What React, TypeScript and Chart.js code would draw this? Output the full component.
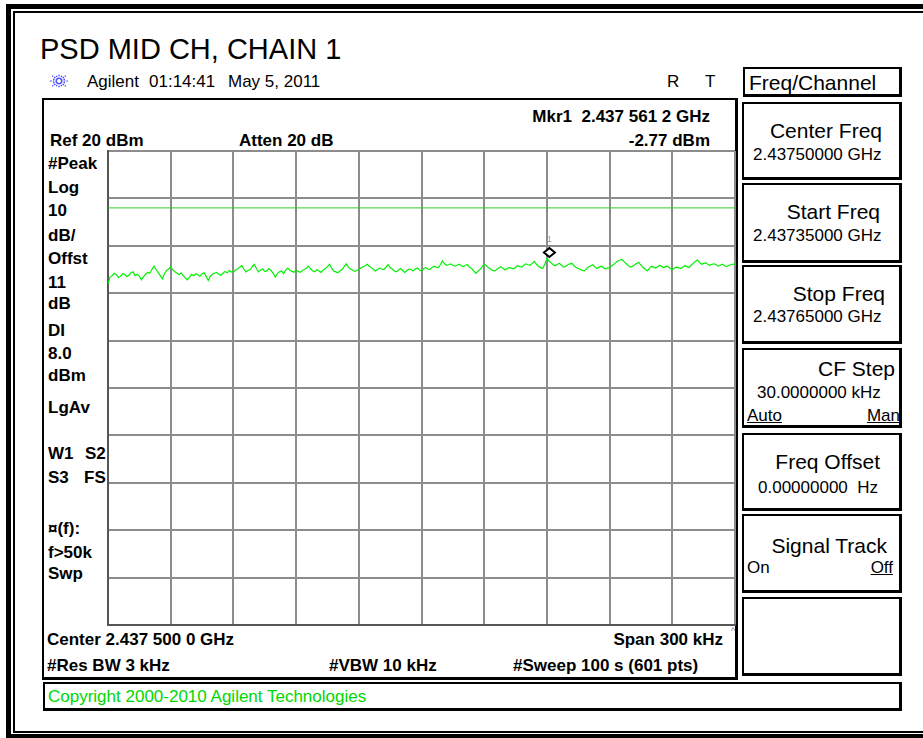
import React, { useEffect, useRef } from "react";
import { Chart, registerables } from "chart.js";
Chart.register(...registerables);

const W = 923;
const H = 738;

// ---- data ----
const startKHz = 2437350;
const stopKHz = 2437650;
const stepKHz = 1;
const refLevelDbm = 20;
const bottomLevelDbm = -80;
const dbPerDiv = 10;
const khzPerDiv = 30;
const displayLineDbm = 8;
const markerKHz = 2437561.2;
const markerDbm = -2.77;
const traceDbm: number[] = [
  -8.0, -6.6, -6.3, -5.8, -6.1, -6.7, -6.4, -5.9, -6.0, -6.5, -6.2, -5.7, -5.5, -6.3, -6.0, -6.4, -7.2, -6.5, -6.0, -5.6,
  -5.8, -5.0, -4.3, -5.0, -5.6, -6.3, -7.0, -5.9, -5.2, -4.9, -4.4, -5.1, -5.5, -5.8, -6.1, -5.7, -6.3, -6.8, -7.2, -6.6,
  -6.0, -6.3, -5.9, -6.1, -6.4, -5.9, -5.7, -6.5, -7.3, -6.4, -6.0, -5.8, -5.6, -6.0, -6.2, -5.8, -5.4, -5.7, -5.2, -5.5,
  -5.6, -5.1, -4.9, -4.5, -4.2, -4.9, -5.5, -5.2, -5.0, -4.4, -3.9, -4.8, -5.5, -5.1, -4.9, -5.4, -5.3, -4.8, -5.2, -5.8,
  -6.6, -5.9, -5.5, -5.3, -5.9, -5.2, -4.7, -5.1, -5.4, -5.6, -5.1, -5.4, -5.6, -5.2, -5.0, -4.7, -4.3, -4.9, -5.3, -5.5,
  -5.0, -5.3, -5.6, -5.1, -4.8, -4.4, -3.9, -4.7, -5.3, -5.5, -5.7, -5.3, -5.0, -4.4, -3.8, -4.5, -4.9, -5.1, -5.4, -5.2,
  -5.0, -4.7, -4.4, -4.2, -3.9, -4.3, -4.6, -5.0, -5.3, -5.0, -4.7, -4.9, -5.0, -4.5, -4.0, -4.6, -4.9, -5.3, -5.5, -5.1,
  -4.8, -5.2, -5.6, -5.2, -4.9, -5.0, -5.3, -4.9, -4.7, -5.1, -5.3, -4.8, -4.6, -4.9, -5.0, -4.6, -4.3, -4.5, -4.6, -4.0,
  -3.2, -3.8, -4.1, -4.0, -3.8, -4.1, -4.3, -4.1, -3.9, -4.2, -4.4, -4.1, -4.0, -4.5, -4.8, -5.3, -5.8, -5.4, -5.0, -4.4,
  -3.9, -4.2, -4.6, -4.9, -5.2, -5.3, -5.0, -4.7, -4.4, -4.8, -5.1, -4.8, -4.6, -4.7, -4.9, -4.5, -4.2, -4.4, -4.5, -4.1,
  -3.8, -4.0, -4.1, -3.7, -3.3, -3.9, -4.3, -4.6, -4.8, -3.9, -2.7, -3.2, -3.6, -4.0, -4.2, -3.9, -3.7, -4.1, -4.5, -4.3,
  -4.0, -3.8, -3.7, -4.2, -4.6, -4.8, -5.0, -5.2, -5.3, -4.8, -4.4, -4.2, -4.0, -4.5, -4.8, -4.5, -4.3, -4.6, -4.9, -4.7,
  -4.6, -4.2, -3.9, -3.5, -3.2, -3.0, -2.9, -3.4, -3.8, -4.2, -4.5, -4.3, -4.0, -3.7, -3.5, -4.1, -4.6, -4.9, -5.3, -4.8,
  -4.3, -4.5, -4.7, -4.4, -4.1, -4.4, -4.6, -4.3, -4.4, -4.8, -5.0, -4.7, -4.5, -4.6, -4.8, -4.5, -4.2, -4.4, -4.6, -4.1,
  -3.7, -3.3, -3.0, -3.5, -3.9, -3.7, -3.6, -3.9, -4.1, -3.9, -3.8, -4.0, -4.3, -4.1, -3.9, -4.2, -4.4, -4.1, -4.0, -3.9, -3.8,
];

const titleText = "PSD MID CH, CHAIN 1";
const leftAnnotations = ["#Peak", "Log", "10", "dB/", "Offst", "11", "dB", "DI", "8.0", "dBm", "LgAv"];
const lowerAnnotations = ["¤(f):", "f>50k", "Swp"];

// ---- layout ----
const PLOT = { left: 108, top: 151, right: 735, bottom: 625 };
const FONT = '"Liberation Sans", Arial, Helvetica, sans-serif';
const leftCaps = [157, 181, 204, 229, 252, 276, 297, 324, 347, 369, 401];
const lowerCaps = [522, 546, 567];

type TP = {
  x?: number; r?: number; cap: number; fs: number; bold?: boolean;
  color?: string; u?: boolean; children: React.ReactNode;
};
function Txt({ x, r, cap, fs, bold, color, u, children }: TP) {
  const st: React.CSSProperties = {
    position: "absolute",
    top: cap - 0.1305 * fs,
    fontSize: fs,
    lineHeight: fs + "px",
    fontFamily: FONT,
    fontWeight: bold ? "bold" : "normal",
    color: color || "#000",
    whiteSpace: "pre",
    textDecoration: u ? "underline" : "none",
  };
  if (r !== undefined) st.right = W - r;
  else st.left = x;
  return <div style={st}>{children}</div>;
}

function Box({ l, t, r, b, bw = 2 }: { l: number; t: number; r: number; b: number; bw?: number }) {
  return (
    <div
      style={{
        position: "absolute", left: l, top: t, width: r - l, height: b - t,
        boxSizing: "border-box", border: `${bw}px solid #000`,
        borderRightWidth: bw + 1, borderBottomWidth: bw + 1,
      }}
    />
  );
}

const markerPlugin = {
  id: "mkr1",
  afterDatasetsDraw(chart: any) {
    const { ctx, scales } = chart;
    const px = scales.x.getPixelForValue(markerKHz);
    const py = scales.y.getPixelForValue(markerDbm);
    const cy = py - 6.5;
    ctx.save();
    ctx.beginPath();
    ctx.moveTo(px, cy - 4.5);
    ctx.lineTo(px + 5.5, cy);
    ctx.lineTo(px, cy + 4.5);
    ctx.lineTo(px - 5.5, cy);
    ctx.closePath();
    ctx.fillStyle = "#fff";
    ctx.fill();
    ctx.lineWidth = 2;
    ctx.strokeStyle = "#000";
    ctx.stroke();
    ctx.fillStyle = "#9a9a9a";
    ctx.font = '9px "Liberation Sans", Arial, sans-serif';
    ctx.textAlign = "center";
    ctx.textBaseline = "bottom";
    ctx.fillText("1", px, cy - 8);
    ctx.restore();
  },
};

function Spark() {
  const cx = 10, cy = 8;
  const rays = [0, 22.5, 45, 67.5, 90, 112.5, 135, 157.5, 180, 202.5, 225, 247.5, 270, 292.5, 315, 337.5];
  return (
    <svg width={20} height={17} style={{ position: "absolute", left: 49, top: 73 }}>
      {rays.map((a, i) => {
        const rad = (a * Math.PI) / 180;
        const rx = i % 2 ? 7 : 9.5, ry = i % 2 ? 5.5 : 7.5;
        return (
          <line key={i} x1={cx + Math.cos(rad) * 2} y1={cy + Math.sin(rad) * 2}
            x2={cx + Math.cos(rad) * rx} y2={cy + Math.sin(rad) * ry}
            stroke="#2f2fff" strokeWidth={1.2} strokeDasharray="1.5 1.2" />
        );
      })}
    </svg>
  );
}

export default function App() {
  const ref = useRef<HTMLCanvasElement | null>(null);
  useEffect(() => {
    if (!ref.current) return;
    const chart = new Chart(ref.current, {
      type: "line",
      data: {
        datasets: [
          {
            data: traceDbm.map((v, i) => ({ x: startKHz + i * stepKHz, y: v })),
            borderColor: "#00f000",
            borderWidth: 1.2,
            pointRadius: 0,
            tension: 0,
          },
          {
            data: [{ x: startKHz, y: displayLineDbm }, { x: stopKHz, y: displayLineDbm }],
            borderColor: "#33cc33",
            borderWidth: 1,
            pointRadius: 0,
          },
        ],
      },
      options: {
        animation: false,
        responsive: false,
        maintainAspectRatio: false,
        events: [],
        layout: {
          autoPadding: false,
          padding: { left: PLOT.left, top: PLOT.top, right: W - PLOT.right, bottom: H - PLOT.bottom },
        },
        plugins: { legend: { display: false }, tooltip: { enabled: false } },
        scales: {
          x: {
            type: "linear", min: startKHz, max: stopKHz,
            ticks: { display: false, stepSize: khzPerDiv },
            grid: { color: "#8c8c8c", lineWidth: 2, drawTicks: false },
            border: { display: true, color: "#555", width: 2 },
          },
          y: {
            type: "linear", min: bottomLevelDbm, max: refLevelDbm,
            ticks: { display: false, stepSize: dbPerDiv },
            grid: { color: "#8c8c8c", lineWidth: 2, drawTicks: false },
            border: { display: true, color: "#555", width: 2 },
          },
        },
      } as any,
      plugins: [markerPlugin],
    });
    return () => chart.destroy();
  }, []);

  return (
    <div style={{ position: "absolute", left: 0, top: 0, width: W, height: H, background: "#fff", overflow: "hidden" }}>
      {/* outer frame */}
      <div style={{ position: "absolute", left: 6, top: 4, width: 960, height: 5, background: "#000" }} />
      <div style={{ position: "absolute", left: 6, top: 4, width: 5, height: 740, background: "#000" }} />
      <div style={{ position: "absolute", left: 13, top: 11, width: 960, height: 2, background: "#000" }} />
      <div style={{ position: "absolute", left: 13, top: 11, width: 2, height: 720, background: "#000" }} />
      <div style={{ position: "absolute", left: 13, top: 731, width: 960, height: 2, background: "#000" }} />
      <div style={{ position: "absolute", left: 6, top: 734, width: 960, height: 4, background: "#000" }} />

      <Txt x={40} cap={39} fs={29}>{titleText}</Txt>
      <Spark />
      <Txt x={87} cap={75} fs={17}>Agilent</Txt>
      <Txt x={149} cap={75} fs={17}>01:14:41</Txt>
      <Txt x={228} cap={75} fs={17}>May 5, 2011</Txt>
      <Txt x={667} cap={75} fs={17}>R</Txt>
      <Txt x={705} cap={75} fs={17}>T</Txt>

      <Box l={743} t={67} r={902} b={97} />
      <Txt x={749} cap={75} fs={21}>Freq/Channel</Txt>

      {/* screen */}
      <Box l={42} t={98} r={738} b={680} />
      <Txt r={710} cap={110} fs={17} bold>Mkr1  2.437 561 2 GHz</Txt>
      <Txt r={710} cap={134} fs={17} bold>-2.77 dBm</Txt>
      <Txt x={50} cap={134} fs={17} bold>Ref 20 dBm</Txt>
      <Txt x={239} cap={134} fs={17} bold>Atten 20 dB</Txt>
      {leftAnnotations.map((s, i) => (
        <Txt key={s + i} x={48} cap={leftCaps[i]} fs={17} bold>{s}</Txt>
      ))}
      <Txt x={48} cap={447} fs={17} bold>W1</Txt>
      <Txt x={85} cap={447} fs={17} bold>S2</Txt>
      <Txt x={48} cap={471} fs={17} bold>S3</Txt>
      <Txt x={84} cap={471} fs={17} bold>FS</Txt>
      {lowerAnnotations.map((s, i) => (
        <Txt key={s} x={48} cap={lowerCaps[i]} fs={17} bold>{s}</Txt>
      ))}
      <Txt x={47} cap={633} fs={17} bold>Center 2.437 500 0 GHz</Txt>
      <Txt r={723} cap={633} fs={17} bold>Span 300 kHz</Txt>
      <Txt x={731} cap={628} fs={9} color="#888">^</Txt>
      <Txt x={47} cap={659} fs={17} bold>#Res BW 3 kHz</Txt>
      <Txt x={329} cap={659} fs={17} bold>#VBW 10 kHz</Txt>
      <Txt x={513} cap={659} fs={17} bold>#Sweep 100 s (601 pts)</Txt>

      {/* softkeys */}
      <Box l={742} t={102} r={902} b={180} />
      <Txt r={882} cap={123} fs={21}>Center Freq</Txt>
      <Txt x={753} cap={148} fs={17}>2.43750000 GHz</Txt>

      <Box l={742} t={183} r={902} b={263} />
      <Txt r={880} cap={204} fs={21}>Start Freq</Txt>
      <Txt x={753} cap={229} fs={17}>2.43735000 GHz</Txt>

      <Box l={742} t={265} r={902} b={344} />
      <Txt r={885} cap={286} fs={21}>Stop Freq</Txt>
      <Txt x={753} cap={310} fs={17}>2.43765000 GHz</Txt>

      <Box l={742} t={348} r={902} b={428} />
      <Txt r={895} cap={361} fs={21}>CF Step</Txt>
      <Txt x={757} cap={386} fs={17}>30.0000000 kHz</Txt>
      <Txt x={747} cap={409} fs={17} u>Auto</Txt>
      <Txt r={900} cap={409} fs={17} u>Man</Txt>

      <Box l={742} t={433} r={902} b={511} />
      <Txt r={880} cap={454} fs={21}>Freq Offset</Txt>
      <Txt x={758} cap={481} fs={17}>0.00000000  Hz</Txt>

      <Box l={742} t={514} r={902} b={593} />
      <Txt r={887} cap={538} fs={21}>Signal Track</Txt>
      <Txt x={747} cap={561} fs={17}>On</Txt>
      <Txt r={893} cap={561} fs={17} u>Off</Txt>

      <Box l={742} t={597} r={902} b={676} />

      {/* copyright bar */}
      <Box l={43} t={682} r={902} b={711} />
      <Txt x={48} cap={690} fs={17} color="#00d800">Copyright 2000-2010 Agilent Technologies</Txt>

      <canvas ref={ref} width={W} height={H} style={{ position: "absolute", left: 0, top: 0, width: W, height: H }} />
    </div>
  );
}
